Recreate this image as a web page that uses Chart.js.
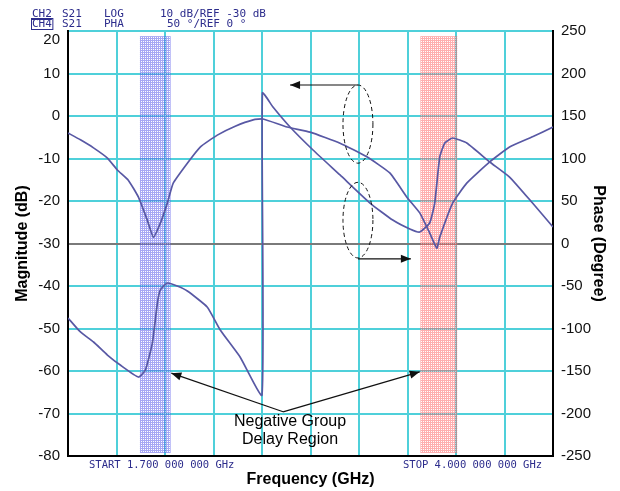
<!DOCTYPE html>
<html><head><meta charset="utf-8">
<script src="https://cdn.jsdelivr.net/npm/chart.js@4.4.1/dist/chart.umd.min.js"></script>
<style>html,body{margin:0;padding:0;background:#fff;}#wrap{width:620px;height:491px;position:relative;}</style>
</head><body><div id="wrap"><canvas id="c"></canvas></div>
<script>
// ---- data ----
const freqMag = [1.70,1.759,1.821,1.887,1.934,1.986,2.034,2.076,2.105,2.138,2.171,2.199,2.266,2.327,2.408,2.493,2.578,2.625,2.739,2.848,2.990,3.117,3.226,3.307,3.368,3.415,3.449,3.463,3.524,3.591,3.700,3.794,3.903,4.0];
const magDb = [-4.0,-5.6,-7.5,-9.9,-12.7,-15.1,-19.1,-24.5,-28.5,-25.2,-20.5,-15.8,-11.1,-7.3,-4.5,-2.4,-0.9,-0.7,-2.6,-3.8,-6.4,-9.6,-13.4,-19.1,-22.8,-27.5,-31.1,-28.5,-20.5,-15.8,-10.8,-7.3,-4.9,-2.6];
const freqPhase = [1.70,1.759,1.821,1.887,1.948,2.034,2.067,2.100,2.124,2.138,2.171,2.218,2.266,2.360,2.422,2.516,2.620,2.622,2.672,2.753,2.862,2.990,3.132,3.240,3.321,3.368,3.415,3.439,3.463,3.487,3.524,3.591,3.700,3.794,3.903,4.0];
const phaseDeg = [-87.6,-104.1,-115.9,-131.2,-143.0,-157.1,-148.8,-117.1,-70.0,-54.7,-46.5,-50.0,-55.9,-74.7,-101.8,-133.5,-178.2,177.1,160.6,137.1,110.0,80.6,47.6,27.6,17.1,13.5,24.1,47.6,101.8,118.2,124.1,118.2,95.9,78.2,47.6,19.4];
const xTicks = [1.70,1.93,2.16,2.39,2.62,2.85,3.08,3.31,3.54,3.77,4.00];
const magRange = [-80, 20];
const phaseRange = [-250, 250];
const magRef = -30;
const ngdBlue = [2.041, 2.187];
const ngdRed = [3.371, 3.546];
const headerRow1 = ['CH2','S21','LOG','10 dB/REF -30 dB'];
const headerRow2 = ['CH4','S21','PHA','50 °/REF 0 °'];
const startLabel = 'START 1.700 000 000 GHz';
const stopLabel = 'STOP 4.000 000 000 GHz';
const noteLines = ['Negative Group','Delay Region'];

// ---- annotation anchors, in (GHz, dB) ----
const ellipseUpper = {f:3.075, db:-1.9, rf:0.071, rdb:9.2};
const ellipseLower = {f:3.075, db:-24.5, rf:0.071, rdb:8.9};
const arrowsData = [
  {from:[3.075,7.3], to:[2.753,7.3]},
  {from:[3.075,-33.6], to:[3.326,-33.6]},
  {from:[2.72,-69.6], to:[2.19,-60.5]},
  {from:[2.72,-69.6], to:[3.368,-60.2]}
];
const noteAnchor = {f:2.753, db:[-72.0,-76.2]};

const CYAN = '#4fd0da';
const CURVE = '#5858a4';
const HDR = '#2c2c8c';

function arrow(ctx, x0, y0, x1, y1){
  ctx.beginPath(); ctx.moveTo(x0,y0); ctx.lineTo(x1,y1); ctx.stroke();
  const a = Math.atan2(y1-y0, x1-x0), L = 10, W = 4;
  ctx.beginPath();
  ctx.moveTo(x1,y1);
  ctx.lineTo(x1 - L*Math.cos(a) + W*Math.sin(a), y1 - L*Math.sin(a) - W*Math.cos(a));
  ctx.lineTo(x1 - L*Math.cos(a) - W*Math.sin(a), y1 - L*Math.sin(a) + W*Math.cos(a));
  ctx.closePath(); ctx.fill();
}

function dotPattern(ctx, base){
  const c = document.createElement('canvas'); c.width = 2; c.height = 2;
  const g = c.getContext('2d');
  g.fillStyle = base; g.fillRect(0,0,2,2);
  g.clearRect(1,1,1,1);
  g.fillStyle = 'rgba(255,255,255,0.45)'; g.fillRect(1,1,1,1);
  return ctx.createPattern(c, 'repeat');
}

const overlay = {
  id: 'overlay',
  beforeDatasetsDraw(chart){
    const {ctx, scales:{x, y}} = chart;
    ctx.save();
    const top = y.getPixelForValue(18.8), bot = y.getPixelForValue(-79.3);
    [[ngdBlue,'rgba(95,95,235,0.55)'],[ngdRed,'rgba(255,95,95,0.5)']].forEach(([r,c])=>{
      const x0 = x.getPixelForValue(r[0]), x1 = x.getPixelForValue(r[1]);
      ctx.fillStyle = dotPattern(ctx, c);
      ctx.fillRect(x0, top, x1-x0, bot-top);
    });
    ctx.restore();
  },
  afterDraw(chart){
    const {ctx, scales:{x, y}} = chart;
    ctx.save();
    // header
    ctx.font = '11px "DejaVu Sans Mono", monospace';
    ctx.fillStyle = HDR; ctx.strokeStyle = HDR; ctx.lineWidth = 1;
    ctx.textBaseline = 'middle'; ctx.textAlign = 'left';
    const cols = [32, 62, 104, 160];
    headerRow1.forEach((t,i)=>ctx.fillText(t, cols[i], 14));
    headerRow2.forEach((t,i)=>ctx.fillText(t, i===3 ? 167 : cols[i], 24));
    const w2 = ctx.measureText(headerRow1[0]).width;
    ctx.beginPath(); ctx.moveTo(32, 19.5); ctx.lineTo(32+w2, 19.5); ctx.stroke();
    const w4 = ctx.measureText(headerRow2[0]).width;
    ctx.strokeRect(31.5, 18.5, w4+1.5, 11);
    // start / stop
    ctx.font = '10.5px "DejaVu Sans Mono", monospace';
    ctx.fillText(startLabel, 89, 465);
    ctx.fillText(stopLabel, 403, 465);
    // ellipses
    ctx.strokeStyle = '#111'; ctx.fillStyle = '#111'; ctx.lineWidth = 1;
    ctx.setLineDash([4,3]);
    [ellipseUpper, ellipseLower].forEach(e=>{
      const cx = x.getPixelForValue(e.f), cy = y.getPixelForValue(e.db);
      const rx = Math.abs(x.getPixelForValue(e.f+e.rf)-cx), ry = Math.abs(y.getPixelForValue(e.db+e.rdb)-cy);
      ctx.beginPath(); ctx.ellipse(cx, cy, rx, ry, 0, 0, Math.PI*2); ctx.stroke();
    });
    ctx.setLineDash([]);
    ctx.lineWidth = 1.2;
    arrowsData.forEach(a=>{
      arrow(ctx, x.getPixelForValue(a.from[0]), y.getPixelForValue(a.from[1]),
                 x.getPixelForValue(a.to[0]), y.getPixelForValue(a.to[1]));
    });
    // note text
    ctx.font = '16px "Liberation Sans", Arial, sans-serif';
    ctx.fillStyle = '#000'; ctx.textAlign = 'center';
    noteLines.forEach((t,i)=>ctx.fillText(t, x.getPixelForValue(noteAnchor.f), y.getPixelForValue(noteAnchor.db[i])));
    ctx.restore();
  }
};

const tickFont = {family:'"Liberation Sans", Arial, sans-serif', size:15};
const titleFont = {family:'"Liberation Sans", Arial, sans-serif', size:16, weight:'bold'};

new Chart(document.getElementById('c'), {
  type: 'line',
  data: {
    datasets: [
      {label:'Magnitude', yAxisID:'y', data: freqMag.map((f,i)=>({x:f, y:magDb[i]})),
       borderColor: CURVE, borderWidth: 1.7, pointRadius: 0, tension: 0.15, fill:false},
      {label:'Phase', yAxisID:'y1', data: freqPhase.map((f,i)=>({x:f, y:phaseDeg[i]})),
       borderColor: CURVE, borderWidth: 1.7, pointRadius: 0, tension: 0.15, fill:false}
    ]
  },
  options: {
    responsive: true, maintainAspectRatio: false, animation: false,
    layout: {padding: {top: 31, left: 0, right: 0, bottom: 0}},
    plugins: {legend: {display:false}, tooltip: {enabled:false}},
    scales: {
      x: {
        type: 'linear', min: 1.7, max: 4.0,
        afterBuildTicks: s => { s.ticks = xTicks.map(v=>({value:v})); },
        afterFit: s => { s.height = 35; },
        ticks: {display: false},
        grid: {color: c => (c.tick && (c.tick.value===xTicks[0] || c.tick.value===xTicks[xTicks.length-1])) ? '#000' : CYAN,
               lineWidth: 2, drawTicks: false},
        border: {color:'#000', width: 2},
        title: {display: true, text: 'Frequency (GHz)', font: titleFont, color:'#000', padding: {top:0, bottom:2}}
      },
      y: {
        position: 'left', min: magRange[0], max: magRange[1],
        ticks: {stepSize: 10, font: tickFont, color:'#111', padding: 8, autoSkip: false,
                callback: v => v === magRange[1] ? ['', String(v)] : String(v)},
        afterFit: s => { s.width = 68; },
        grid: {color: c => c.tick.value===magRef ? '#7a7a7a' : (c.tick.value===magRange[0] ? '#000' : CYAN),
               lineWidth: 2, drawTicks: false},
        border: {color:'#000', width: 2},
        title: {display: true, text: 'Magnitude (dB)', font: titleFont, color:'#000', padding: {top:13, bottom:0}}
      },
      y1: {
        position: 'right', min: phaseRange[0], max: phaseRange[1],
        ticks: {stepSize: 50, font: tickFont, color:'#111', padding: 8, autoSkip: false},
        afterFit: s => { s.width = 67; },
        grid: {display: false, drawTicks: false},
        border: {color:'#000', width: 2},
        title: {display: true, text: 'Phase (Degree)', font: titleFont, color:'#000', padding: {top:12, bottom:0}}
      }
    }
  },
  plugins: [overlay]
});
</script>
</body></html>
